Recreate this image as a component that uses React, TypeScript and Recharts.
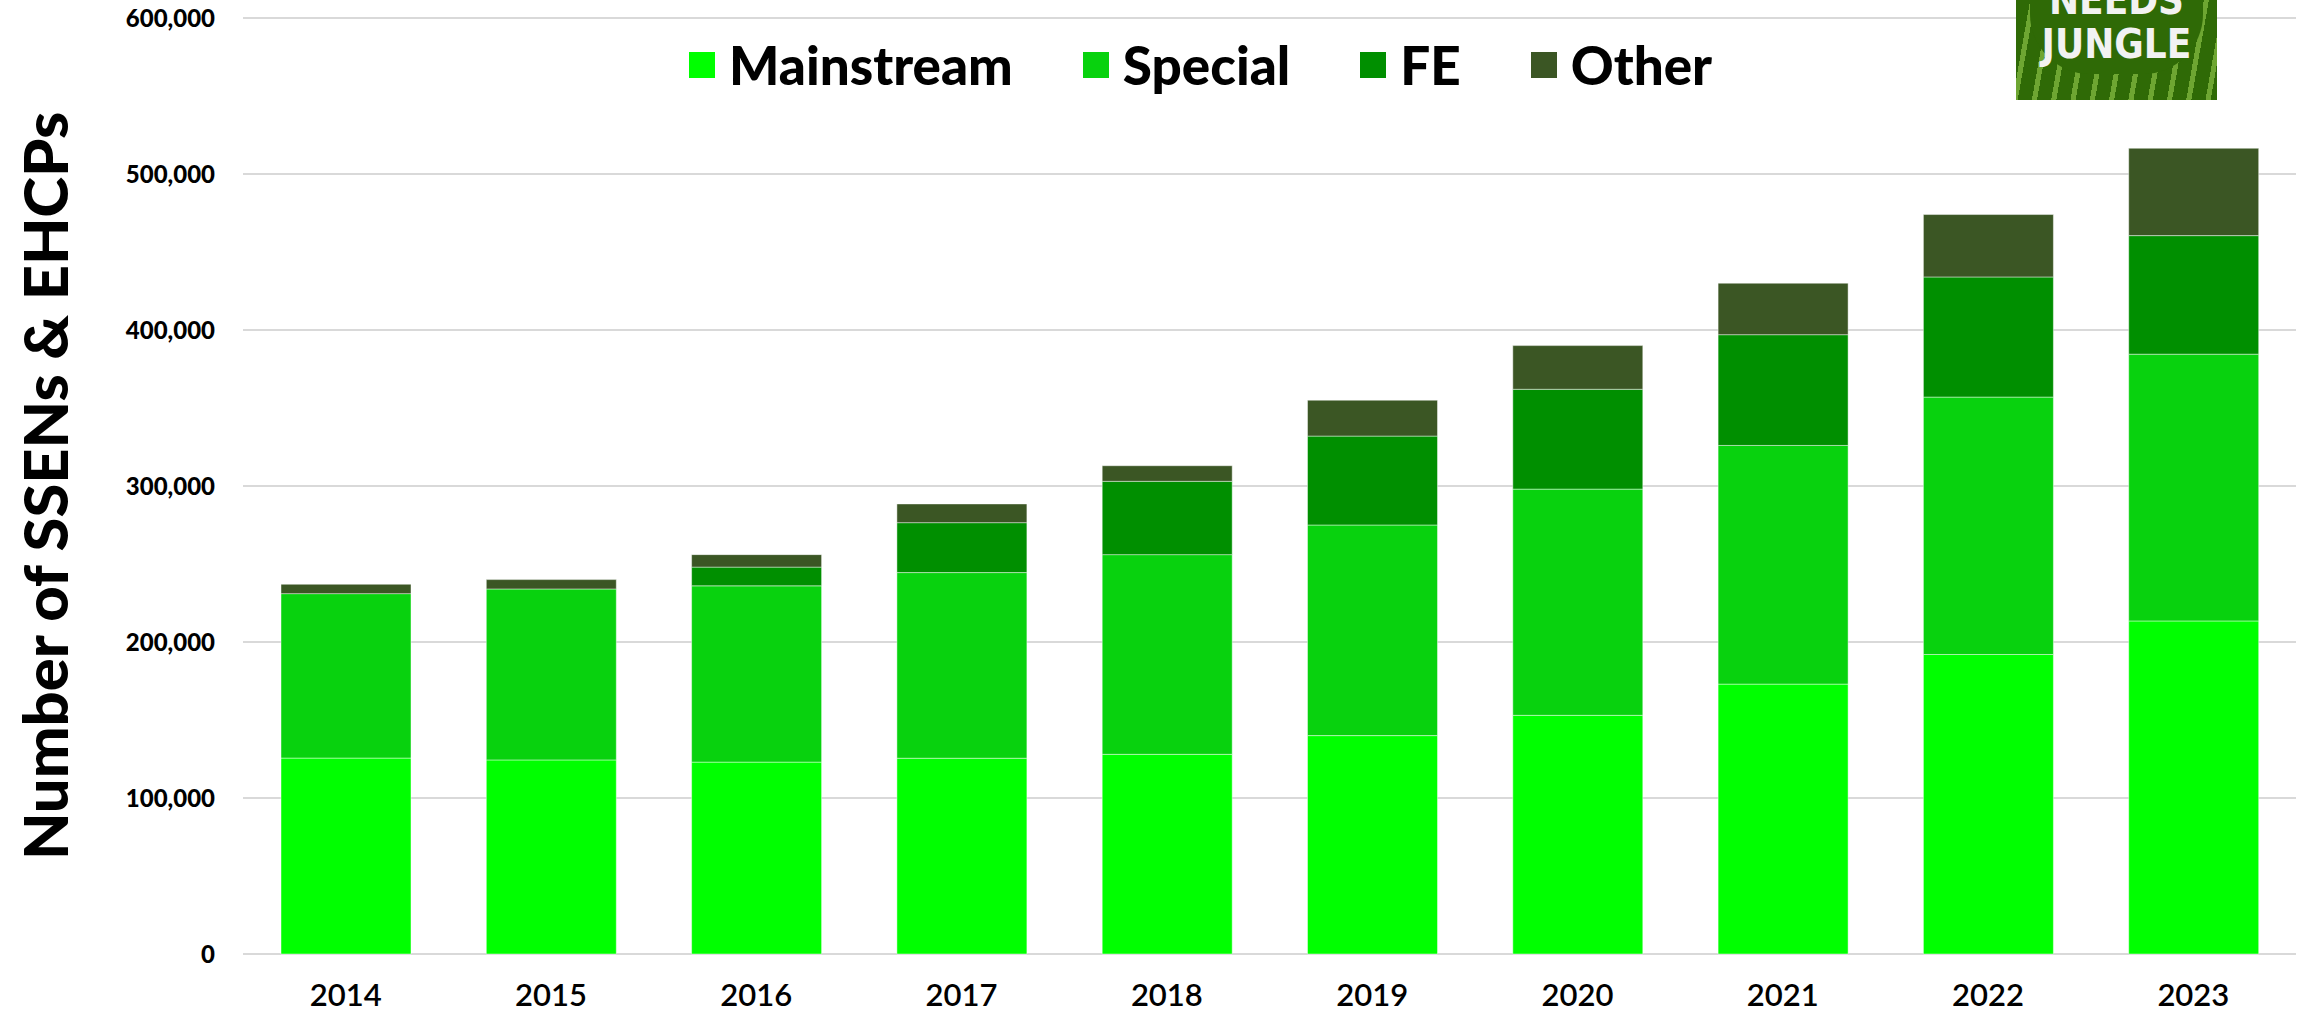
import React from "react";
import { BarChart, Bar, XAxis, YAxis, CartesianGrid, Legend, Label } from "recharts";

const years = ["2014", "2015", "2016", "2017", "2018", "2019", "2020", "2021", "2022", "2023"];
const mainstream = [125600, 124400, 123000, 125500, 128000, 140000, 153000, 173000, 192000, 213500];
const special = [105400, 109600, 113000, 119000, 128000, 135000, 145000, 153000, 165000, 171000];
const fe = [0, 0, 12000, 32000, 47000, 57000, 64000, 71000, 77000, 76000];
const other = [6000, 6000, 8000, 12000, 10000, 23000, 28000, 33000, 40000, 56000];
const yTicks = [0, 100000, 200000, 300000, 400000, 500000, 600000];

const seriesNames = ["Mainstream", "Special", "FE", "Other"];
const seriesKeys = ["mainstream", "special", "fe", "other"];
const seriesColors = ["#00ff00", "#08d20e", "#008f00", "#3b5624"];

const data = years.map((year, i) => ({
  year,
  mainstream: mainstream[i],
  special: special[i],
  fe: fe[i],
  other: other[i],
}));

const heavyFont = "Lato, 'Noto Sans', sans-serif";

const renderLegend = (props: any) => {
  const items = [...(props.payload || [])].sort(
    (a: any, b: any) => seriesNames.indexOf(a.value) - seriesNames.indexOf(b.value)
  );
  return (
    <div style={{ display: "flex", alignItems: "center", paddingLeft: 689, height: 60 }}>
      {items.map((entry: any, i: number) => (
        <div key={entry.value} style={{ display: "flex", alignItems: "center", marginRight: i < items.length - 1 ? 70 : 0 }}>
          <div style={{ width: 26, height: 26, background: entry.color, marginRight: 14 }} />
          <span style={{ fontFamily: heavyFont, fontWeight: 900, fontSize: 53, color: "#000", lineHeight: "60px" }}>
            {entry.value}
          </span>
        </div>
      ))}
    </div>
  );
};

const renderYLabel = (props: any) => {
  const { viewBox } = props;
  const x = viewBox.x + 44;
  const y = viewBox.y + viewBox.height / 2;
  return (
    <text
      x={x}
      y={y}
      transform={`rotate(-90 ${x} ${y})`}
      textAnchor="middle"
      dominantBaseline="central"
      style={{ fontFamily: heavyFont, fontWeight: 900, fontSize: 61.5, fill: "#000" }}
    >
      Number of SSENs &amp; EHCPs
    </text>
  );
};

function Logo() {
  return (
    <div
      style={{
        position: "absolute",
        left: 2016,
        top: 0,
        width: 201,
        height: 100,
        overflow: "hidden",
        background:
          "repeating-linear-gradient(100deg, #2f6a06 0px, #2f6a06 14px, #6ea632 14px, #6ea632 19px)",
      }}
    >
      <div style={{ position: "absolute", left: 14, right: 14, top: 0, bottom: 26, background: "#2f6a06", borderRadius: "0 0 60px 60px" }} />
      <div
        style={{
          position: "absolute",
          left: 0,
          width: 201,
          top: -22,
          textAlign: "center",
          color: "#f2f2f2",
          fontFamily: "'Liberation Sans Narrow', 'DejaVu Sans Condensed', sans-serif",
          fontWeight: 700,
          fontSize: 40,
          lineHeight: "44px",
        }}
      >
        NEEDS
        <br />
        JUNGLE
      </div>
    </div>
  );
}

export default function App() {
  return (
    <div style={{ position: "absolute", top: 0, left: 0, width: 2308, height: 1015, background: "#fff" }}>
      <BarChart
        width={2308}
        height={1015}
        data={data}
        margin={{ top: 18, right: 12, bottom: 0, left: 0 }}
      >
        <CartesianGrid vertical={false} stroke="#d9d9d9" strokeWidth={2} />
        <XAxis
          dataKey="year"
          height={61}
          axisLine={false}
          tickLine={false}
          tickSize={0}
          tickMargin={30}
          tick={{ fontFamily: heavyFont, fontWeight: 600, fontSize: 31, fill: "#000" }}
        />
        <YAxis
          width={243}
          domain={[0, 600000]}
          ticks={yTicks}
          interval={0}
          axisLine={false}
          tickLine={false}
          tickSize={0}
          tickMargin={28}
          tickFormatter={(v: number) => v.toLocaleString("en-US")}
          tick={{ fontFamily: heavyFont, fontWeight: 900, fontSize: 24, fill: "#000" }}
        >
          <Label content={renderYLabel} />
        </YAxis>
        <Legend
          layout="horizontal"
          verticalAlign="middle"
          align="center"
          content={renderLegend}
          wrapperStyle={{ top: 35, left: 0, width: 2308 }}
        />
        {seriesKeys.map((key, i) => (
          <Bar
            key={key}
            dataKey={key}
            name={seriesNames[i]}
            stackId="a"
            fill={seriesColors[i]}
            stroke="rgba(255,255,255,0.45)"
            strokeWidth={1}
            barSize={130}
            isAnimationActive={false}
          />
        ))}
      </BarChart>
      <Logo />
    </div>
  );
}
